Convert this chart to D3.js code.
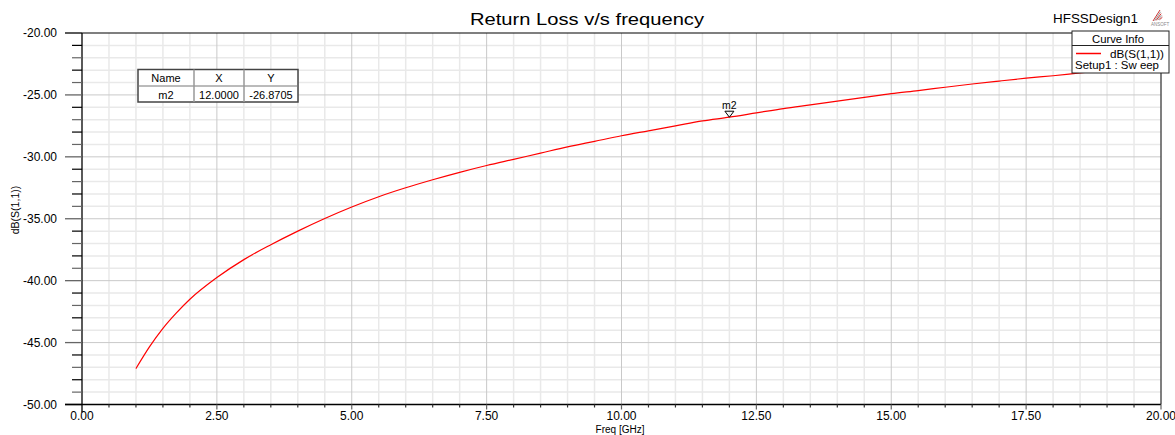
<!DOCTYPE html>
<html>
<head>
<meta charset="utf-8">
<script src="https://cdn.jsdelivr.net/npm/d3@7"></script>
<style>
  body { margin: 0; background: #fff; }
  svg text { font-family: "Liberation Sans", Arial, sans-serif; fill: #000; }
</style>
</head>
<body>
<div id="chart"></div>
<script>
// ---- data ----
const freqGHz = [1.0, 1.25, 1.5, 1.75, 2.0, 2.5, 3.0, 3.5, 4.0, 4.5, 5.0, 5.5, 6.0, 6.5, 7.0,
  7.5, 8.0, 8.5, 9.0, 9.5, 10.0, 10.5, 11.0, 11.5, 12.0, 12.5, 13.0, 13.5, 14.0, 14.5,
  15.0, 15.5, 16.0, 16.5, 17.0, 17.5, 18.0, 18.5, 19.0, 19.5, 20.0];
const s11dB = [-47.1, -45.35, -43.85, -42.6, -41.5, -39.75, -38.3, -37.1, -36.0, -34.98, -34.05,
  -33.22, -32.5, -31.85, -31.25, -30.7, -30.2, -29.7, -29.2, -28.75, -28.3, -27.9, -27.5,
  -27.1, -26.8, -26.45, -26.1, -25.8, -25.5, -25.2, -24.9, -24.65, -24.38, -24.12, -23.88,
  -23.65, -23.45, -23.22, -23.0, -22.8, -22.6];
const xTicks = [0, 2.5, 5, 7.5, 10, 12.5, 15, 17.5, 20];
const yTicks = [-50, -45, -40, -35, -30, -25, -20];
const markerName = "m2";
const markerFreq = 12;
const markerHeader = ["Name", "X", "Y"];
const markerRow = ["m2", "12.0000", "-26.8705"];
const titleText = "Return Loss v/s frequency";
const designName = "HFSSDesign1";
const curveName = "dB(S(1,1))";
const sweepName = "Setup1 : Sw eep";

const width = 1175, height = 435;
const margin = { top: 33, right: 14, bottom: 30.5, left: 82 };

const svg = d3.select("#chart").append("svg")
  .attr("width", width)
  .attr("height", height);

const x = d3.scaleLinear().domain([0, 20]).range([margin.left, width - margin.right]);
const y = d3.scaleLinear().domain([-50, -20]).range([height - margin.bottom, margin.top]);

// grid
const minorX = d3.range(0, 20.001, 0.5).filter(v => !xTicks.includes(v));
const minorY = d3.range(-50, -19.999, 1).filter(v => !yTicks.includes(v));

const grid = svg.append("g");
grid.selectAll(".gx").data(minorX).enter().append("line")
  .attr("x1", d => x(d)).attr("x2", d => x(d))
  .attr("y1", y(-20)).attr("y2", y(-50))
  .attr("stroke", "#e9e9e9").attr("stroke-width", 1.5);
grid.selectAll(".gy").data(minorY).enter().append("line")
  .attr("x1", x(0)).attr("x2", x(20))
  .attr("y1", d => y(d)).attr("y2", d => y(d))
  .attr("stroke", "#e9e9e9").attr("stroke-width", 1.5);
grid.selectAll(".gX").data(xTicks.slice(1, -1)).enter().append("line")
  .attr("x1", d => x(d)).attr("x2", d => x(d))
  .attr("y1", y(-20)).attr("y2", y(-50))
  .attr("stroke", "#c9c9c9").attr("stroke-width", 1);
grid.selectAll(".gY").data(yTicks.slice(1, -1)).enter().append("line")
  .attr("x1", x(0)).attr("x2", x(20))
  .attr("y1", d => y(d)).attr("y2", d => y(d))
  .attr("stroke", "#c9c9c9").attr("stroke-width", 1);

// axes (drawn by hand to mimic HFSS style)
const axes = svg.append("g");
// top & right frame
axes.append("line").attr("x1", x(0)).attr("x2", x(20)).attr("y1", y(-20)).attr("y2", y(-20))
  .attr("stroke", "#000").attr("stroke-width", 1.2);
axes.append("line").attr("x1", x(20)).attr("x2", x(20)).attr("y1", y(-20)).attr("y2", y(-50))
  .attr("stroke", "#555").attr("stroke-width", 1.5);
// left axis
axes.append("line").attr("x1", x(0)).attr("x2", x(0)).attr("y1", y(-20)).attr("y2", y(-50) + 8)
  .attr("stroke", "#000").attr("stroke-width", 1.3);
axes.selectAll(".ty").data(minorY).enter().append("line")
  .attr("x1", x(0) - 10).attr("x2", x(0))
  .attr("y1", d => y(d)).attr("y2", d => y(d))
  .attr("stroke", (d, i) => i % 2 ? "#000" : "#666").attr("stroke-width", 1.2);
axes.selectAll(".tY").data(yTicks).enter().append("line")
  .attr("x1", x(0) - 17).attr("x2", x(0))
  .attr("y1", d => y(d)).attr("y2", d => y(d))
  .attr("stroke", d => (d === -50 || d === -20) ? "#000" : "#666").attr("stroke-width", 1.3);
axes.selectAll(".ly").data(yTicks).enter().append("text")
  .attr("x", 57).attr("y", d => y(d) + 4)
  .attr("text-anchor", "end")
  .attr("font-size", "12px")
  .text(d => d.toFixed(2));
// bottom axis
axes.append("line").attr("x1", x(0) - 17).attr("x2", x(20)).attr("y1", y(-50)).attr("y2", y(-50))
  .attr("stroke", "#000").attr("stroke-width", 1.3);
axes.selectAll(".tx").data(minorX).enter().append("line")
  .attr("x1", d => x(d)).attr("x2", d => x(d))
  .attr("y1", y(-50)).attr("y2", y(-50) + 3)
  .attr("stroke", "#333").attr("stroke-width", 1.2);
axes.selectAll(".tX").data(xTicks.slice(1)).enter().append("line")
  .attr("x1", d => x(d)).attr("x2", d => x(d))
  .attr("y1", y(-50)).attr("y2", y(-50) + 5)
  .attr("stroke", "#666").attr("stroke-width", 1.2);
axes.selectAll(".lx").data(xTicks).enter().append("text")
  .attr("x", d => x(d)).attr("y", 420)
  .attr("text-anchor", "middle")
  .attr("font-size", "12px")
  .text(d => d.toFixed(2));

// axis titles
svg.append("text")
  .attr("transform", `translate(19,210) rotate(-90)`)
  .attr("text-anchor", "middle")
  .attr("font-size", "10.5px")
  .text(curveName);
svg.append("text")
  .attr("x", 620).attr("y", 432.5)
  .attr("text-anchor", "middle")
  .attr("font-size", "10px")
  .text("Freq [GHz]");

// curve
const pts = freqGHz.map((f, i) => [f, s11dB[i]]);
const line = d3.line().x(d => x(d[0])).y(d => y(d[1])).curve(d3.curveMonotoneX);
svg.append("path")
  .datum(pts)
  .attr("d", line)
  .attr("fill", "none")
  .attr("stroke", "#ff0000")
  .attr("stroke-width", 1.2);

// marker
const mVal = s11dB[freqGHz.indexOf(markerFreq)];
const mx = x(markerFreq), my = y(mVal);
svg.append("path")
  .attr("d", `M${mx - 4.5},${my - 6}L${mx + 4.5},${my - 6}L${mx},${my}Z`)
  .attr("fill", "none").attr("stroke", "#000").attr("stroke-width", 1);
svg.append("text")
  .attr("x", mx).attr("y", my - 8)
  .attr("text-anchor", "middle")
  .attr("font-size", "10.5px")
  .text(markerName);

// marker table
const colX = [138, 194, 244, 298];
const rowY = [69.5, 86, 102];
const tbl = svg.append("g");
tbl.append("rect")
  .attr("x", colX[0]).attr("y", rowY[0])
  .attr("width", colX[3] - colX[0]).attr("height", rowY[2] - rowY[0])
  .attr("fill", "#fff").attr("stroke", "#444").attr("stroke-width", 1.5);
tbl.append("line").attr("x1", colX[0]).attr("x2", colX[3]).attr("y1", rowY[1]).attr("y2", rowY[1])
  .attr("stroke", "#777").attr("stroke-width", 1);
[colX[1], colX[2]].forEach(cx => {
  tbl.append("line").attr("x1", cx).attr("x2", cx).attr("y1", rowY[0]).attr("y2", rowY[2])
    .attr("stroke", "#999").attr("stroke-width", 1.5);
});
[markerHeader, markerRow].forEach((row, r) => {
  row.forEach((t, c) => {
    tbl.append("text")
      .attr("x", (colX[c] + colX[c + 1]) / 2)
      .attr("y", rowY[r] + 12.5)
      .attr("text-anchor", "middle")
      .attr("font-size", "11px")
      .text(t);
  });
});

// title + design name
svg.append("text")
  .attr("x", 587).attr("y", 25)
  .attr("text-anchor", "middle")
  .attr("font-size", "17px")
  .attr("textLength", 234).attr("lengthAdjust", "spacingAndGlyphs")
  .text(titleText);
svg.append("text")
  .attr("x", 1053).attr("y", 23)
  .attr("font-size", "12.5px")
  .attr("textLength", 85).attr("lengthAdjust", "spacingAndGlyphs")
  .text(designName);

// ansoft logo
const logo = svg.append("g").attr("transform", "translate(1151,8)");
[0, 1, 2, 3, 4].forEach(i => {
  logo.append("line")
    .attr("x1", 2 + i * 1.6).attr("y1", 13 - i * 0.3)
    .attr("x2", 9 + i * 0.6).attr("y2", 2 + i * 1.8)
    .attr("stroke", i % 2 ? "#999" : "#c33").attr("stroke-width", 1);
});
logo.append("text").attr("x", 0).attr("y", 18).attr("font-size", "4.5px")
  .style("fill", "#888").text("ANSOFT");

// curve info legend
const lg = svg.append("g");
lg.append("rect")
  .attr("x", 1072).attr("y", 31)
  .attr("width", 97).attr("height", 42)
  .attr("fill", "#fff").attr("stroke", "#222").attr("stroke-width", 1);
lg.append("line").attr("x1", 1072).attr("x2", 1169).attr("y1", 45.5).attr("y2", 45.5)
  .attr("stroke", "#222").attr("stroke-width", 1);
lg.append("text").attr("x", 1092).attr("y", 42.5)
  .attr("font-size", "11px")
  .attr("textLength", 52).attr("lengthAdjust", "spacingAndGlyphs")
  .text("Curve Info");
lg.append("line").attr("x1", 1076).attr("x2", 1101).attr("y1", 53.5).attr("y2", 53.5)
  .attr("stroke", "#ff0000").attr("stroke-width", 1.5);
lg.append("text").attr("x", 1110).attr("y", 57.5)
  .attr("font-size", "11px")
  .attr("textLength", 54).attr("lengthAdjust", "spacingAndGlyphs")
  .text(curveName);
lg.append("text").attr("x", 1075).attr("y", 68.5)
  .attr("font-size", "11px")
  .attr("textLength", 84).attr("lengthAdjust", "spacingAndGlyphs")
  .text(sweepName);
</script>
</body>
</html>
